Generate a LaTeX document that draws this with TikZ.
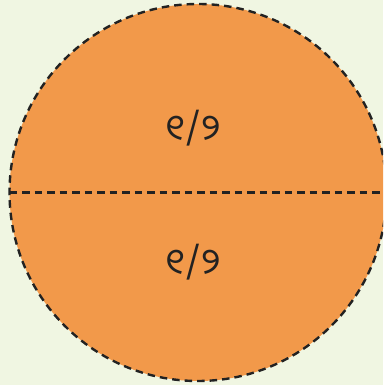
\documentclass[tikz,border=0pt]{standalone}
\usepackage{fontspec}
\newfontfamily\odiafont[Script=Oriya]{Noto Sans Oriya UI}
\definecolor{bg}{HTML}{F0F6E2}
\definecolor{fillor}{HTML}{F2994A}
\definecolor{dashc}{HTML}{222222}
\tikzset{
  edge/.style={draw=dashc, line width=2.4pt, dash pattern=on 7.5pt off 5pt},
  lbl/.style={font=\odiafont\fontsize{36}{42}\selectfont, text=dashc, inner sep=0pt}
}
\begin{document}
\begin{tikzpicture}[x=1pt,y=1pt]
  \fill[bg] (0,0) rectangle (383,385);
  \useasboundingbox (0,0) rectangle (383,385);
  \begin{scope}
    \clip (0,0) rectangle (383,385);
    \fill[fillor] (198,192.5) circle (188.5);
    \draw[edge] (198,192.5) circle (188.5);
    \coordinate (l) at (9.5,192.5);
    \coordinate (r) at (386.5,192.5);
    \draw[edge] (l) -- (r);
  \end{scope}
  \node[lbl] (top) at (193,257) {୧/୨};
  \node[lbl] (bot) at (193,123) {୧/୨};
\end{tikzpicture}
\end{document}
